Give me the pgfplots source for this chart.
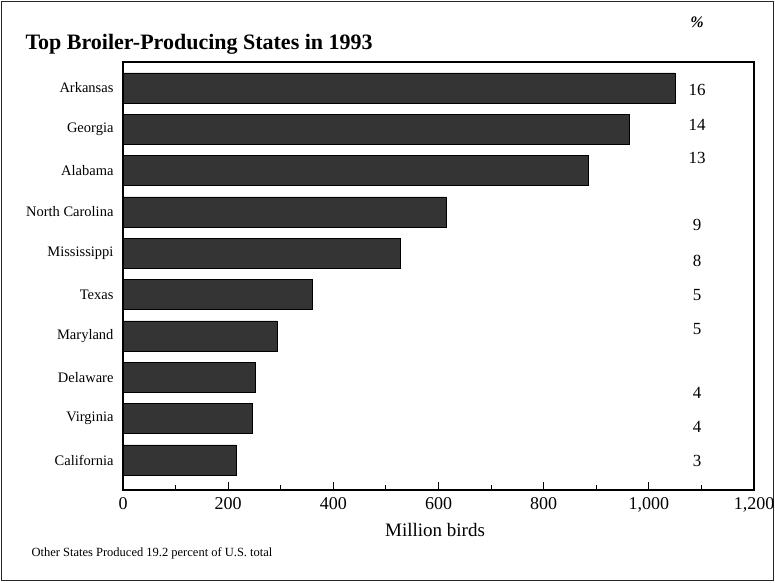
\documentclass[border=0pt]{standalone}
\usepackage{pgfplots}
\pgfplotsset{compat=1.18}
\usepackage{fontspec}
\setmainfont{Liberation Serif}
\definecolor{barfill}{RGB}{52,52,52}
\begin{document}
\begin{tikzpicture}[x=1pt,y=1pt]
\path[use as bounding box] (0,0) rectangle (775,582);
\draw[line width=1.5pt, black!85] (1.5,1.5) rectangle (773.5,580.5);
\begin{axis}[
  at={(123pt,92pt)}, anchor=south west,
  scale only axis, width=631pt, height=428pt,
  xmin=0, xmax=1200, ymin=-0.726, ymax=9.629,
  xbar, bar width=0.726,
  xtick={0,200,400,600,800,1000,1200},
  minor xtick={100,300,500,700,900,1100},
  xtick pos=left, tick align=inside,
  major tick length=8pt, minor tick length=5pt,
  ytick={0,1,2,3,4,5,6,7,8,9},
  yticklabels={California,Virginia,Delaware,Maryland,Texas,Mississippi,North Carolina,Alabama,Georgia,Arkansas},
  ytick style={draw=none},
  yticklabel style={font=\fontsize{14.5}{16}\selectfont, xshift=-6pt},
  xticklabel style={font=\fontsize{18}{20}\selectfont, yshift=-4pt},
  /pgf/number format/assume math mode=true,
  scaled x ticks=false,
  /pgf/number format/1000 sep={,},
  axis line style={line width=1.2pt},
  every tick/.style={line width=1pt, black},
]
\addplot[fill=barfill, draw=black, line width=0.6pt] coordinates {(215,0) (245,1) (251,2) (293,3) (360,4) (528,5) (615,6) (884,7) (962,8) (1050,9)};
\end{axis}
\node[anchor=base west, font=\fontsize{22}{24}\selectfont\bfseries] at (22,532) {Top Broiler-Producing States in 1993};
\node[font=\fontsize{16}{18}\selectfont\bfseries\itshape] at (697,560) {\%};
\foreach \v/\py in {16/90,14/125,13/158,9/225,8/261,5/295,5/329,4/393,4/427,3/461}{
  \node[font=\fontsize{17}{19}\selectfont] at (697,582-\py) {\v};
}
\node[font=\fontsize{19}{21}\selectfont] at (435,52) {Million birds};
\node[anchor=base west, font=\fontsize{12.5}{14}\selectfont] at (28,26) {Other States Produced 19.2 percent of U.S. total};
\end{tikzpicture}
\end{document}
